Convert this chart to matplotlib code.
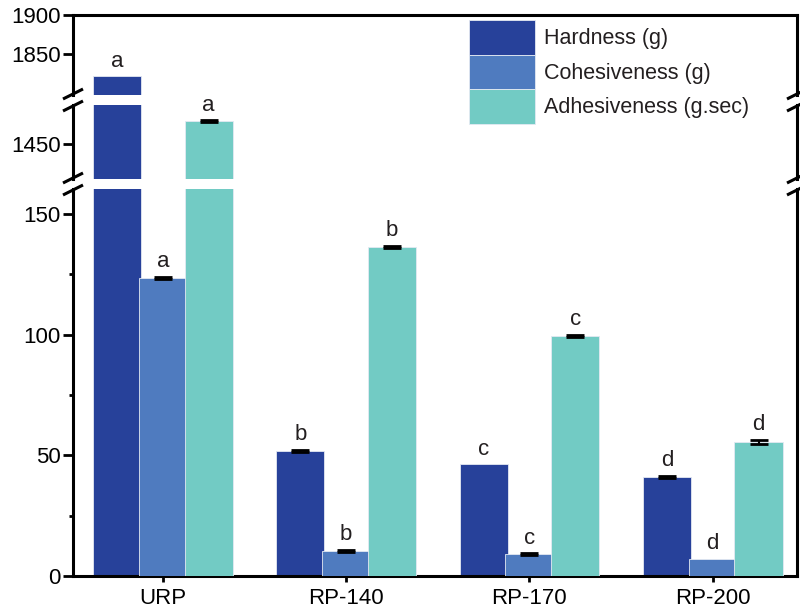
import matplotlib
matplotlib.use('Agg')
import matplotlib.pyplot as plt
from matplotlib.lines import Line2D
from matplotlib.patches import Patch
from matplotlib.ticker import FixedLocator
import numpy as np

plt.rcParams['font.family'] = ['Liberation Sans', 'DejaVu Sans']
plt.rcParams['text.color'] = '#231f20'

# ========================
# Data
# ========================
samples = ['URP', 'RP-140', 'RP-170', 'RP-200']
series = ['Hardness (g)', 'Cohesiveness (g)', 'Adhesiveness (g.sec)']
hardness = [1821, 52.0, 46.3, 41.2]
cohesiveness = [123.5, 10.4, 9.0, 7.0]
adhesiveness = [1479, 136.5, 99.4, 55.5]
hardness_err = [0.0, 0.4, 0.0, 0.4]
cohesiveness_err = [0.4, 0.4, 0.4, 0.0]
adhesiveness_err = [1.0, 0.4, 0.4, 0.8]
hardness_grp = ['a', 'b', 'c', 'd']
cohesiveness_grp = ['a', 'b', 'c', 'd']
adhesiveness_grp = ['a', 'b', 'c', 'd']

colors = ['#27419a', '#4f7bbf', '#72cbc4']

# y ranges of the three stacked segments (broken axis)
seg_limits = [(1797, 1900), (1404, 1500), (0, 160.4)]
seg_ticks = [[1850, 1900], [1450], [0, 50, 100, 150]]

FS = 16

W, H = 800, 610
fig = plt.figure(figsize=(W / 100, H / 100), dpi=100)

left_px, right_px = 73, 797
seg_px = [(15, 95), (105, 179), (189, 576)]  # top/bottom pixel rows of each segment

axes = []
for top, bot in seg_px:
    ax = fig.add_axes([left_px / W, 1 - bot / H, (right_px - left_px) / W, (bot - top) / H])
    ax.set_facecolor('none')
    axes.append(ax)

x = np.arange(len(samples))
width = 0.262
offsets = [-0.25, 0.0, 0.25]
values = [hardness, cohesiveness, adhesiveness]
errors = [hardness_err, cohesiveness_err, adhesiveness_err]
groups = [hardness_grp, cohesiveness_grp, adhesiveness_grp]

spine_lw = 2.2
for i, ax in enumerate(axes):
    for k in range(3):
        ax.bar(x + offsets[k], values[k], width, color=colors[k],
               edgecolor='#e4e9f2', linewidth=0.6, zorder=2 + k)
    lo, hi = seg_limits[i]
    ax.set_ylim(lo, hi)
    ax.set_xlim(-0.49, 3.46)

    for s in ax.spines.values():
        s.set_linewidth(spine_lw)
        s.set_color('black')
    ax.spines['top'].set_visible(i == 0)
    ax.spines['bottom'].set_visible(i == 2)

    ax.yaxis.set_major_locator(FixedLocator(seg_ticks[i]))
    ax.tick_params(axis='y', direction='out', length=7, width=2, labelsize=FS, pad=2)
    if i == 2:
        ax.yaxis.set_minor_locator(FixedLocator([25, 75, 125]))
        ax.tick_params(axis='y', which='minor', direction='out', length=3, width=2)
        ax.set_xticks(x)
        ax.set_xticklabels(samples)
        ax.tick_params(axis='x', direction='out', length=4, width=2, labelsize=FS, pad=5)
    else:
        ax.set_xticks([])

    # error caps and significance letters inside the segment that holds the value
    for k in range(3):
        for j in range(len(samples)):
            v, e = values[k][j], errors[k][j]
            if not (lo <= v <= hi):
                continue
            xx = x[j] + offsets[k]
            if e > 0:
                ax.errorbar(xx, v, yerr=e, fmt='none', ecolor='black',
                            elinewidth=1.5, capsize=6.5, capthick=2, zorder=10)
            ax.annotate(groups[k][j], (xx, v + e), xytext=(0, 7),
                        textcoords='offset points', ha='center', va='baseline',
                        fontsize=FS, zorder=11)

# break marks on both spines
for xs in (left_px, right_px):
    for yp in (95, 105, 179, 189):
        yc = 1 - (yp - 1) / H if yp in (95, 179) else 1 - (yp + 1) / H
        fig.add_artist(Line2D([xs / W - 10 / W, xs / W + 10 / W],
                              [yc - 5 / H, yc + 5 / H],
                              transform=fig.transFigure, color='black',
                              lw=2.2, solid_capstyle='butt'))

handles = [Patch(facecolor=c, edgecolor='#e4e9f2', linewidth=0.6) for c in colors]
fig.legend(handles, series, loc='upper left', bbox_to_anchor=(469 / W, 1 - 20 / H),
           frameon=False, fontsize=15.5, handlelength=3.05, handleheight=2.1,
           labelspacing=0.0, handletextpad=0.45, borderpad=0, borderaxespad=0)

plt.savefig('out.png', dpi=100)
